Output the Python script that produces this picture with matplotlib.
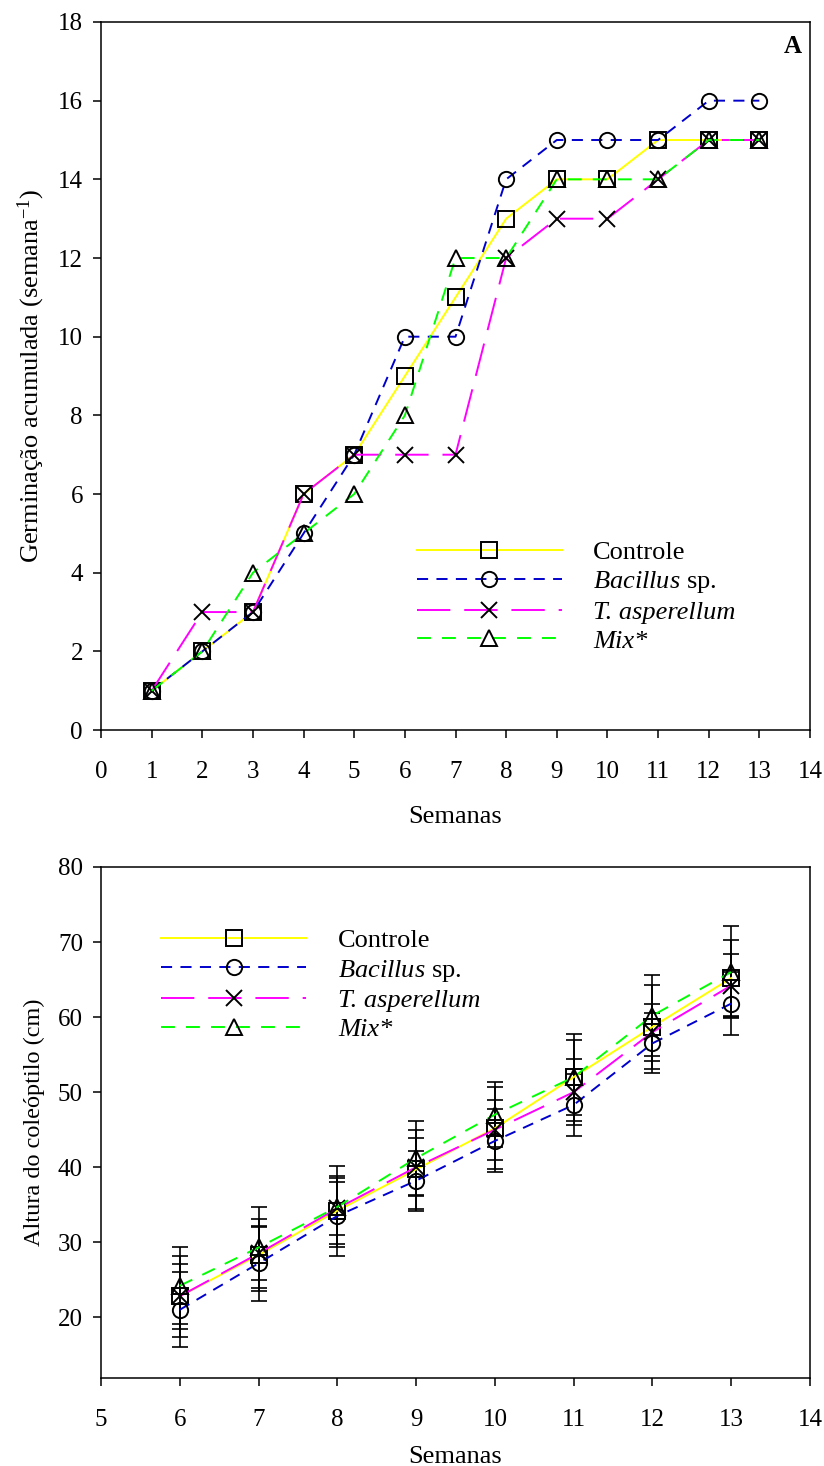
import numpy as np
import matplotlib.pyplot as plt

plt.rcParams['font.family'] = ['Liberation Serif', 'DejaVu Serif']
plt.rcParams['mathtext.fontset'] = 'custom'
plt.rcParams['mathtext.rm'] = 'Liberation Serif'
plt.rcParams['mathtext.it'] = 'Liberation Serif:italic'
plt.rcParams['mathtext.bf'] = 'Liberation Serif:bold'
plt.rcParams['lines.scale_dashes'] = False

# --- panel A: germinação acumulada ---
weeks_a = np.arange(1, 14)
germ_controle = [1, 2, 3, 6, 7, 9, 11, 13, 14, 14, 15, 15, 15]
germ_bacillus = [1, 2, 3, 5, 7, 10, 10, 14, 15, 15, 15, 16, 16]
germ_tasper = [1, 3, 3, 6, 7, 7, 7, 12, 13, 13, 14, 15, 15]
germ_mix = [1, 2, 4, 5, 6, 8, 12, 12, 14, 14, 14, 15, 15]

# --- panel B: altura do coleóptilo ---
weeks_b = np.arange(6, 14)
alt_controle = [22.8, 28.3, 34.2, 39.7, 45.2, 52.0, 58.7, 65.2]
alt_bacillus = [21.0, 27.2, 33.5, 38.2, 43.5, 48.3, 56.5, 61.8]
alt_tasper = [22.8, 28.5, 34.5, 40.0, 45.0, 50.0, 58.0, 64.2]
alt_mix = [24.2, 29.3, 34.7, 41.2, 47.0, 52.0, 60.2, 66.0]
err_controle = [5.4, 4.8, 4.4, 5.3, 5.5, 5.8, 5.6, 5.1]
err_bacillus = [5.0, 5.0, 5.3, 4.0, 4.2, 4.1, 4.0, 4.2]
err_tasper = [4.3, 3.5, 3.5, 3.9, 4.0, 4.4, 3.8, 4.2]
err_mix = [5.1, 5.4, 5.4, 4.9, 4.3, 5.0, 5.4, 6.1]

labels = ['Controle', r'$\mathit{Bacillus}$ sp.', 'T. asperellum', 'Mix*']
colors = ['#ffff00', '#0000cc', '#ff00ff', '#00ff00']
markers = ['s', 'o', 'x', '^']
dashes = [None, (8, 6), (24, 10), (10, 8)]

fig = plt.figure(figsize=(8.24, 14.66), dpi=100)
ax1 = fig.add_axes([0.1226, 0.502, 0.8604, 0.483])
ax2 = fig.add_axes([0.1226, 0.0600, 0.8604, 0.3486])


def draw(ax, x, ys):
    for y, lab, c, m, d in zip(ys, labels, colors, markers, dashes):
        line, = ax.plot(x, y, color=c, lw=1.4, marker=m, markersize=11,
                        markerfacecolor='none', markeredgecolor='black',
                        markeredgewidth=1.4, label=lab)
        if d is not None:
            line.set_dashes(d)


draw(ax1, weeks_a, [germ_controle, germ_bacillus, germ_tasper, germ_mix])

for y, e in zip([alt_controle, alt_bacillus, alt_tasper, alt_mix],
                [err_controle, err_bacillus, err_tasper, err_mix]):
    ax2.errorbar(weeks_b, y, yerr=e, fmt='none', ecolor='black',
                 elinewidth=1.2, capsize=6, capthick=1.2)
draw(ax2, weeks_b, [alt_controle, alt_bacillus, alt_tasper, alt_mix])

for ax in (ax1, ax2):
    ax.tick_params(direction='out', length=6, width=1.1, labelsize=18,
                   top=False, right=False)
    ax.tick_params(axis='x', pad=16)
    ax.tick_params(axis='y', pad=7)
    for s in ax.spines.values():
        s.set_linewidth(1.1)

ax1.set_xlim(0, 14)
ax1.set_ylim(0, 18)
ax1.set_xticks(range(0, 15))
ax1.set_yticks(range(0, 19, 2))
ax1.set_xlabel('Semanas', fontsize=19, labelpad=17)
ax1.set_ylabel('Germinação acumulada (semana$^{-1}$)', fontsize=19, labelpad=8)
ax1.text(0.975, 0.965, 'A', transform=ax1.transAxes, fontsize=18,
         fontweight='bold', ha='center', va='center')

ax2.set_xlim(5, 14)
ax2.set_ylim(11.9, 80)
ax2.set_xticks(range(5, 15))
ax2.set_yticks(range(20, 81, 10))
ax2.set_xlabel('Semanas', fontsize=19, labelpad=11)
ax2.set_ylabel('Altura do coleóptilo (cm)', fontsize=17.5, labelpad=9)


def legend(ax, anchor):
    leg = ax.legend(loc='upper left', bbox_to_anchor=anchor, frameon=False,
                    fontsize=19, handlelength=5.5, handletextpad=1.2,
                    labelspacing=0.2, borderpad=0, borderaxespad=0)
    for t in leg.get_texts()[2:]:
        t.set_fontstyle('italic')
    return leg


legend(ax1, (0.445, 0.268))
legend(ax2, (0.085, 0.879))

fig.savefig('out.png', dpi=100)
